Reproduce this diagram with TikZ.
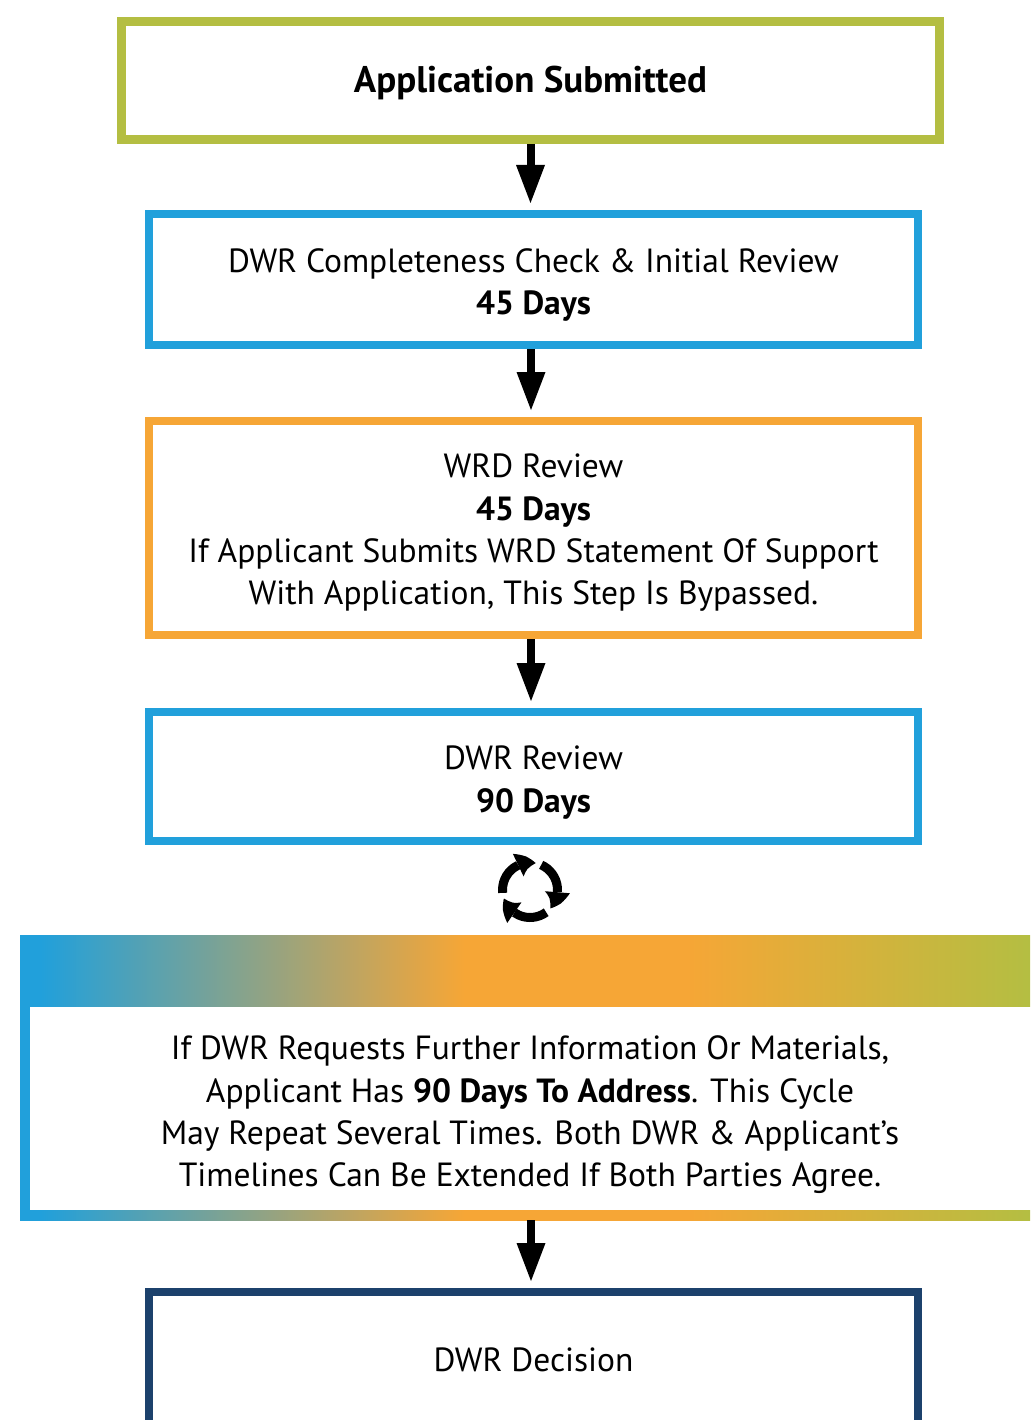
\documentclass[tikz,border=0pt]{standalone}
\usepackage{fontspec}
\setmainfont{PT Sans}
\usetikzlibrary{arrows.meta,bending}
\definecolor{cgreen}{HTML}{B4BE42}
\definecolor{cblue}{HTML}{21A0DB}
\definecolor{corange}{HTML}{F6A636}
\definecolor{cnavy}{HTML}{1C416C}
\pgfdeclarehorizontalshading{gradband}{100bp}{color(0bp)=(cblue); color(25bp)=(cblue); color(26bp)=(cblue); color(47bp)=(corange); color(58bp)=(corange); color(75bp)=(cgreen); color(100bp)=(cgreen)}
\begin{document}
\begin{tikzpicture}[x=1pt,y=-1pt,
  box/.style={draw=#1, line width=8pt, minimum width=769pt, inner sep=0pt},
  txt/.style={align=center, inner sep=0pt, font=\fontsize{33.5}{42.3}\selectfont},
  grad/.style={shading=gradband},
  flow/.style={line width=8pt, -{Triangle[width=29pt,length=38pt,line width=0pt]}, shorten >=7pt},
  cyclearrow/.style={line width=9pt, -{Triangle[width=25pt,length=18pt,line width=0pt,bend]}},
]
\useasboundingbox (0,0) rectangle (1030,1420);
\fill[white] (0,0) rectangle (1030,1420);

% boxes
\node[box=cgreen, line width=9pt, minimum width=818pt, minimum height=118pt] (b1) at (530.5,80.5) {};
\node[box=cblue, minimum height=131pt] (b2) at (533.5,279.5) {};
\node[box=corange, minimum height=214pt] (b3) at (533.5,528) {};
\node[box=cblue, minimum height=129pt] (b4) at (533.5,776.5) {};
\node[box=cnavy, minimum height=136pt] (b5) at (533.5,1360) {};

% texts
\node[txt, font=\fontsize{37}{42}\selectfont\bfseries] (t1) at (530.5,83) {Application Submitted};
\node[txt] (t2) at (533.5,285)
  {DWR Completeness Check \& Initial Review\\\textbf{45 Days}};
\node[txt] (t3) at (533.5,533)
  {WRD Review\\\textbf{45 Days}\\If Applicant Submits WRD Statement Of Support\\With Application, This Step Is Bypassed.};
\node[txt] (t4) at (533.5,782.5)
  {DWR Review\\\textbf{90 Days}};
\node[txt] (t5) at (533.5,1360) {DWR Decision};

% gradient box
\shade[grad] (20,935) rectangle (1030,1006);
\shade[grad] (20,1210) rectangle (1030,1220);
\fill[cblue] (20,935) rectangle (30,1215);
\node[txt] (gtext) at (530,1115)
  {If DWR Requests Further Information Or Materials,\\Applicant Has \textbf{90 Days To Address}. This Cycle\\May Repeat Several Times. Both DWR \& Applicant’s\\Timelines Can Be Extended If Both Parties Agree.};
\coordinate (gbot) at (531,1220);

% arrows
\draw[flow] (b1.south) -- (b1.south |- b2.north);
\draw[flow] (531,0 |- b2.south) -- (531,0 |- b3.north);
\draw[flow] (531,0 |- b3.south) -- (531,0 |- b4.north);
\draw[flow] (gbot) -- (gbot |- b5.north);

% cycle icon
\coordinate (cyc) at (530,890);
\begin{scope}[shift={(cyc)}, yscale=-1]
  \foreach \a in {186,66,-54} {
    \draw[cyclearrow] (\a:27.5) arc[start angle=\a, end angle=\a-108, radius=27.5];
  }
\end{scope}
\end{tikzpicture}
\end{document}
